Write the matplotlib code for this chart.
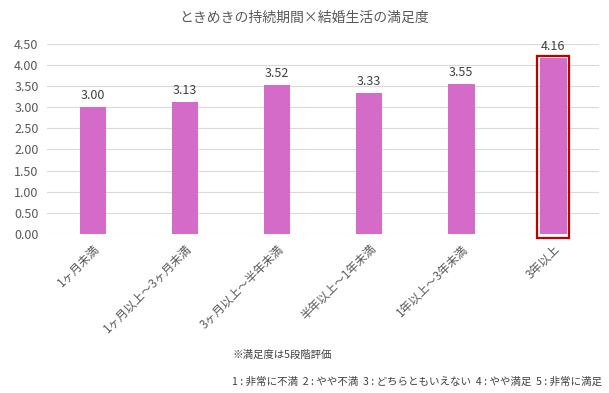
import matplotlib

matplotlib.use("Agg")
import matplotlib.pyplot as plt
from matplotlib.patches import Rectangle

plt.rcParams["font.family"] = ["Noto Sans CJK JP", "DejaVu Sans"]

categories = ["1ヶ月未満", "1ヶ月以上～3ヶ月未満", "3ヶ月以上～半年未満", "半年以上～1年未満", "1年以上～3年未満", "3年以上"]
values = [3.00, 3.13, 3.52, 3.33, 3.55, 4.16]
yticks = [0.0, 0.5, 1.0, 1.5, 2.0, 2.5, 3.0, 3.5, 4.0, 4.5]
highlight = 5

text_color = "#595959"
bar_color = "#d46bc8"

fig = plt.figure(figsize=(6.09, 3.93), dpi=100)
ax = fig.add_axes([0.077, 0.405, 0.907, 0.483])

x = list(range(len(categories)))
ax.bar(x, values, width=0.29, color=bar_color, zorder=2)
for xi, v in zip(x, values):
    ax.text(xi, v + 0.12, f"{v:.2f}", ha="center", va="bottom", fontsize=9, color="#404040")

# red box round the last bar
ax.add_patch(Rectangle((highlight - 0.175, -0.09), 0.35, values[highlight] + 0.14,
                       fill=False, edgecolor="#c00000", linewidth=1.6, clip_on=False, zorder=3))

ax.set_xlim(-0.5, len(categories) - 0.5)
ax.set_ylim(0, 4.5)
ax.set_yticks(yticks)
ax.set_yticklabels([f"{t:.2f}" for t in yticks], fontsize=9, color=text_color)
ax.set_xticks(x)
ax.set_xticklabels(categories, rotation=45, ha="right", rotation_mode="anchor", fontsize=8.5, color=text_color)
ax.tick_params(length=0, pad=6)
ax.grid(axis="y", color="#d9d9d9", linewidth=0.8, zorder=0)
for s in ax.spines.values():
    s.set_visible(False)

fig.text(0.5, 0.955, "ときめきの持続期間×結婚生活の満足度", ha="center", va="center", fontsize=10, color=text_color)
fig.text(0.381, 0.097, "※満足度は5段階評価", ha="left", va="center", fontsize=7.5, color="#404040")
fig.text(0.381, 0.028, "1 : 非常に不満  2 : やや不満  3 : どちらともいえない  4 : やや満足  5 : 非常に満足",
         ha="left", va="center", fontsize=7.6, color="#404040")

fig.savefig("out.png", dpi=100)
